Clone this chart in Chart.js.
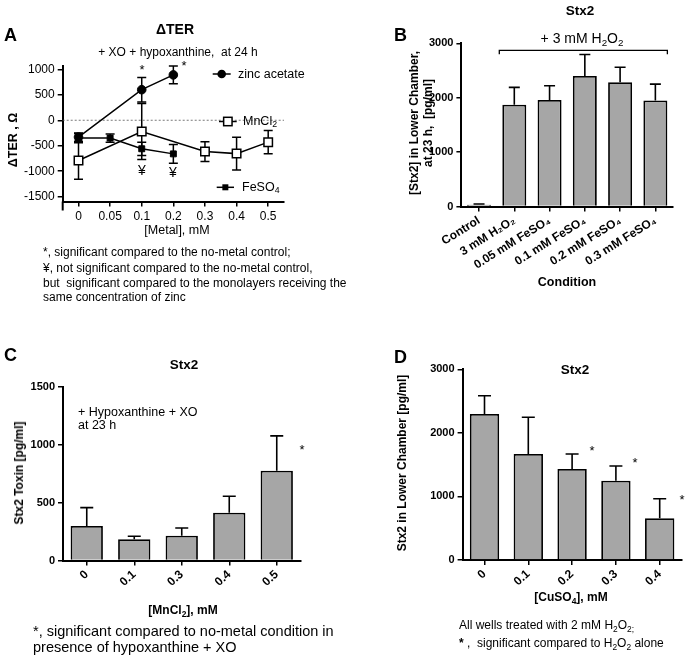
<!DOCTYPE html>
<html><head><meta charset="utf-8">
<script src="https://cdn.jsdelivr.net/npm/chart.js@4.4.1/dist/chart.umd.min.js"></script>
<style>
body{margin:0;background:#fff;}
#wrap{position:relative;width:685px;height:656px;overflow:hidden;background:#fff;font-family:"Liberation Sans",Arial,sans-serif;color:#000;}
canvas{position:absolute;}
.t{position:absolute;white-space:nowrap;line-height:1;}
.c{transform:translate(-50%,-50%);}
.l{transform:translate(0,-50%);}
.b{font-weight:bold;}
.r{transform:translate(-50%,-50%) rotate(-90deg);text-align:center;}
sub{font-size:70%;vertical-align:-0.3em;line-height:0;}
</style></head>
<body>
<div id="wrap">
<canvas id="A" width="340" height="240" style="left:0;top:0;width:340px;height:240px"></canvas>
<canvas id="B" width="345" height="300" style="left:340px;top:0;width:345px;height:300px"></canvas>
<canvas id="C" width="340" height="290" style="left:0;top:330px;width:340px;height:290px"></canvas>
<canvas id="D" width="345" height="290" style="left:340px;top:330px;width:345px;height:290px"></canvas>

<!-- Panel A text -->
<div class="t b l" style="left:4px;top:35px;font-size:18px">A</div>
<div class="t b c" style="left:175px;top:29px;font-size:14px">ΔTER</div>
<div class="t c" style="left:178px;top:52px;font-size:12px">+ XO + hypoxanthine,&nbsp; at 24 h</div>
<div class="t b r" style="left:13px;top:140px;font-size:12.5px">ΔTER , Ω</div>
<div class="t c" style="left:177px;top:230px;font-size:12.5px">[Metal], mM</div>
<div class="t l" style="left:43px;top:252px;font-size:12px">*, significant compared to the no-metal control;</div>
<div class="t l" style="left:43px;top:268px;font-size:12px">¥, not significant compared to the no-metal control,</div>
<div class="t l" style="left:43px;top:283px;font-size:12px">but&nbsp; significant compared to the monolayers receiving the</div>
<div class="t l" style="left:43px;top:297px;font-size:12px">same concentration of zinc</div>
<div class="t c" style="left:142px;top:69px;font-size:13px">*</div>
<div class="t c" style="left:184px;top:65px;font-size:13px">*</div>
<div class="t c" style="left:142px;top:170px;font-size:14px">¥</div>
<div class="t c" style="left:173px;top:172px;font-size:14px">¥</div>
<div class="t l" style="left:238px;top:74px;font-size:12.5px">zinc acetate</div>
<div class="t l" style="left:243px;top:121px;font-size:12.5px">MnCl<sub>2</sub></div>
<div class="t l" style="left:242px;top:187px;font-size:12.5px">FeSO<sub>4</sub></div>

<!-- Panel B text -->
<div class="t b l" style="left:394px;top:35px;font-size:18px">B</div>
<div class="t b c" style="left:580px;top:11px;font-size:13.5px">Stx2</div>
<div class="t c" style="left:582px;top:38px;font-size:14px">+ 3 mM H<sub>2</sub>O<sub>2</sub></div>
<div class="t b r" style="left:421px;top:123px;font-size:12px;line-height:14px">[Stx2] in Lower Chamber,<br>at 23 h,&nbsp; [pg/ml]</div>
<div class="t b c" style="left:567px;top:282px;font-size:12.5px">Condition</div>

<!-- Panel C text -->
<div class="t b l" style="left:4px;top:355px;font-size:18px">C</div>
<div class="t b c" style="left:184px;top:365px;font-size:13.5px">Stx2</div>
<div class="t l" style="left:78px;top:412px;font-size:12.5px">+ Hypoxanthine + XO</div>
<div class="t l" style="left:78px;top:425px;font-size:12.5px">at 23 h</div>
<div class="t b r" style="left:19px;top:473px;font-size:12px">Stx2 Toxin [pg/ml]</div>
<div class="t b c" style="left:183px;top:610px;font-size:12px">[MnCl<sub>2</sub>], mM</div>
<div class="t c" style="left:302px;top:449px;font-size:13px">*</div>
<div class="t l" style="left:33px;top:631px;font-size:14.5px">*, significant compared to no-metal condition in</div>
<div class="t l" style="left:33px;top:647px;font-size:14.5px">presence of hypoxanthine + XO</div>

<!-- Panel D text -->
<div class="t b l" style="left:394px;top:357px;font-size:18px">D</div>
<div class="t b c" style="left:575px;top:370px;font-size:13.5px">Stx2</div>
<div class="t b r" style="left:402px;top:463px;font-size:12px">Stx2 in Lower Chamber [pg/ml]</div>
<div class="t b c" style="left:571px;top:597px;font-size:12px">[CuSO<sub>4</sub>], mM</div>
<div class="t c" style="left:592px;top:450px;font-size:13px">*</div>
<div class="t c" style="left:635px;top:462px;font-size:13px">*</div>
<div class="t c" style="left:682px;top:499px;font-size:13px">*</div>
<div class="t l" style="left:459px;top:625px;font-size:12px">All wells treated with 2 mM H<sub>2</sub>O<sub>2;</sub></div>
<div class="t l" style="left:459px;top:643px;font-size:12px"><b>*</b> ,&nbsp; significant compared to H<sub>2</sub>O<sub>2</sub> alone</div>
</div>

<script>
// ---------- DATA ----------
const metalLevels = ['0','0.05','0.1','0.2','0.3','0.4','0.5'];
const zincTER = [-330, null, 600, 890, null, null, null];
const zincErr = [80, null, 240, 175, null, null, null];
const feTER   = [-350, -350, -560, -660, null, null, null];
const feErr   = [90, 80, 130, 185, null, null, null];
const mnTER   = [-790, null, -220, null, -615, -655, -430];
const mnErr   = [370, null, 550, null, 195, 320, 230];
const terTicks = [-1500, -1000, -500, 0, 500, 1000];

const conditionsB = ['Control','3 mM H₂O₂','0.05 mM FeSO₄','0.1 mM FeSO₄','0.2 mM FeSO₄','0.3 mM FeSO₄'];
const stxB    = [30, 1870, 1960, 2400, 2285, 1950];
const stxBErr = [15, 320, 260, 395, 275, 300];
const ticksB  = [0, 1000, 2000, 3000];

const mnLevels = ['0','0.1','0.3','0.4','0.5'];
const stxC    = [298, 183, 214, 413, 774];
const stxCErr = [158, 26, 67, 142, 302];
const ticksC  = [0, 500, 1000, 1500];

const cuLevels = ['0','0.1','0.2','0.3','0.4'];
const stxD    = [2297, 1668, 1432, 1248, 656];
const stxDErr = [288, 577, 236, 231, 308];
const ticksD  = [0, 1000, 2000, 3000];

// ---------- PLUGINS ----------
function drawErrors(chart, upOnly) {
  const ctx = chart.ctx, ys = chart.scales.y;
  chart.data.datasets.forEach((ds, i) => {
    if (!ds.errors) return;
    const meta = chart.getDatasetMeta(i);
    meta.data.forEach((el, j) => {
      const v = ds.data[j], e = ds.errors[j];
      if (v == null || e == null) return;
      const x = el.x;
      const yt = ys.getPixelForValue(v + e);
      const yb = ys.getPixelForValue(upOnly ? v : v - e);
      const cw = ds.errCap;
      ctx.save();
      ctx.strokeStyle = '#000';
      ctx.lineWidth = ds.errWidth || 1.5;
      ctx.beginPath();
      ctx.moveTo(x, yt); ctx.lineTo(x, yb);
      ctx.moveTo(x - cw, yt); ctx.lineTo(x + cw, yt);
      if (!upOnly) { ctx.moveTo(x - cw, yb); ctx.lineTo(x + cw, yb); }
      ctx.stroke();
      ctx.restore();
    });
  });
}
const errorBars = {
  id: 'errorBars',
  beforeDatasetsDraw(chart) { if (chart.config.type === 'line') drawErrors(chart, false); },
  afterDatasetsDraw(chart) { if (chart.config.type === 'bar') drawErrors(chart, true); }
};

const extraDraw = {
  A(chart) {
    const ctx = chart.ctx, ys = chart.scales.y, a = chart.chartArea;
    const y0 = ys.getPixelForValue(0);
    ctx.save();
    ctx.strokeStyle = '#555'; ctx.lineWidth = 0.8; ctx.setLineDash([2, 2]);
    ctx.beginPath(); ctx.moveTo(a.left, y0); ctx.lineTo(a.right, y0); ctx.stroke();
    ctx.restore();
  },
  Apost(chart) {
    const ctx = chart.ctx, a = chart.chartArea;
    ctx.save();
    ctx.strokeStyle = '#000'; ctx.fillStyle = '#000';
    // y axis running a little below the x axis
    ctx.lineWidth = 2;
    ctx.beginPath(); ctx.moveTo(a.left, a.bottom); ctx.lineTo(a.left, a.bottom + 9); ctx.stroke();
    const items = [
      {x1: 212.7, x2: 230.7, y: 74, style: 'circle'},
      {x1: 219, x2: 236.7, y: 121.5, style: 'open'},
      {x1: 216.7, x2: 234, y: 187.3, style: 'square'}
    ];
    ctx.lineWidth = 1.5;
    items.forEach(it => {
      const cx = (it.x1 + it.x2) / 2;
      ctx.beginPath(); ctx.moveTo(it.x1, it.y); ctx.lineTo(it.x2, it.y); ctx.stroke();
      if (it.style === 'circle') { ctx.beginPath(); ctx.arc(cx, it.y, 4.3, 0, Math.PI * 2); ctx.fill(); }
      if (it.style === 'open') { ctx.fillStyle = '#fff'; ctx.fillRect(cx - 4.2, it.y - 4.2, 8.4, 8.4); ctx.strokeRect(cx - 4.2, it.y - 4.2, 8.4, 8.4); ctx.fillStyle = '#000'; }
      if (it.style === 'square') { ctx.fillRect(cx - 3, it.y - 3, 6, 6); }
    });
    ctx.restore();
  },
  Bpost(chart) {
    const ctx = chart.ctx, xs = chart.scales.x, ys = chart.scales.y;
    const x1 = xs.getPixelForValue(1) - 15, x2 = xs.getPixelForValue(5) + 12;
    const y = ys.getPixelForValue(3000) + 7;
    ctx.save();
    ctx.strokeStyle = '#000'; ctx.lineWidth = 1.3;
    ctx.beginPath();
    ctx.moveTo(x1, y + 4); ctx.lineTo(x1, y); ctx.lineTo(x2, y); ctx.lineTo(x2, y + 4);
    ctx.stroke();
    ctx.restore();
  }
};
const extras = {
  id: 'extras',
  beforeDatasetsDraw(chart) { const f = extraDraw[chart.canvas.id]; if (f) f(chart); },
  afterDraw(chart) { const f = extraDraw[chart.canvas.id + 'post']; if (f) f(chart); }
};

const FONT = '"Liberation Sans", Arial, sans-serif';

function axisCommon(bold, size) {
  return {
    border: {display: true, color: '#000', width: 2},
    grid: {display: true, drawOnChartArea: false, drawTicks: true, tickLength: 5, color: '#000', lineWidth: 1.5, offset: false},
    ticks: {color: '#000', font: {family: FONT, size: size, weight: bold ? 'bold' : 'normal'}, padding: 3}
  };
}

// ---------- PANEL A ----------
(function () {
  const W = 340, H = 240, box = {left: 62.7, right: 284, top: 66, bottom: 201.5}, xH = 20;
  const yAx = axisCommon(false, 12);
  const xAx = axisCommon(false, 12);
  yAx.ticks.callback = v => String(v);
  new Chart(document.getElementById('A'), {
    type: 'line',
    data: {
      labels: metalLevels,
      datasets: [
        {label: 'zinc acetate', data: zincTER, errors: zincErr, errCap: 4.5, borderColor: '#000', borderWidth: 1.5,
         pointStyle: 'circle', pointRadius: 4.3, pointBackgroundColor: '#000', pointBorderColor: '#000', pointBorderWidth: 1, spanGaps: true, fill: false},
        {label: 'MnCl₂', data: mnTER, errors: mnErr, errCap: 4.5, borderColor: '#000', borderWidth: 1.5,
         pointStyle: 'rect', pointRadius: 6, pointBackgroundColor: '#fff', pointBorderColor: '#000', pointBorderWidth: 1.5, spanGaps: true, fill: false},
        {label: 'FeSO₄', data: feTER, errors: feErr, errCap: 4.5, borderColor: '#000', borderWidth: 1.5,
         pointStyle: 'rect', pointRadius: 4.2, pointBackgroundColor: '#000', pointBorderColor: '#000', pointBorderWidth: 1, spanGaps: true, fill: false}
      ]
    },
    options: {
      responsive: false, animation: false, devicePixelRatio: 1,
      layout: {padding: {left: 0, top: box.top, right: W - box.right, bottom: H - box.bottom - xH}},
      plugins: {legend: {display: false}, tooltip: {enabled: false}},
      scales: {
        x: Object.assign(xAx, {type: 'category', offset: true, afterFit: s => { s.height = xH; }}),
        y: Object.assign(yAx, {min: -1595, max: 1065,
          afterBuildTicks: s => { s.ticks = terTicks.map(v => ({value: v})); },
          afterFit: s => { s.width = box.left; }})
      }
    },
    plugins: [errorBars, extras]
  });
})();

// ---------- BAR PANELS ----------
function barPanel(id, W, H, box, xH, labels, data, errs, ticks, ymax, barPct, cap, rot, xSize) {
  const yAx = axisCommon(true, 11);
  const xAx = axisCommon(true, xSize);
  yAx.ticks.callback = v => String(v);
  xAx.ticks.minRotation = rot; xAx.ticks.maxRotation = rot;
  xAx.ticks.padding = 2;
  new Chart(document.getElementById(id), {
    type: 'bar',
    data: {
      labels: labels,
      datasets: [{data: data, errors: errs, errCap: cap, errWidth: 1.6,
        backgroundColor: '#a6a6a6', borderColor: '#000', borderWidth: 1.8, borderSkipped: 'bottom',
        barPercentage: barPct, categoryPercentage: 1.0}]
    },
    options: {
      responsive: false, animation: false, devicePixelRatio: 1,
      layout: {padding: {left: 0, top: box.top, right: W - box.right, bottom: H - box.bottom - xH}},
      plugins: {legend: {display: false}, tooltip: {enabled: false}},
      scales: {
        x: Object.assign(xAx, {type: 'category', offset: true, afterFit: s => { s.height = xH; }}),
        y: Object.assign(yAx, {min: 0, max: ymax,
          afterBuildTicks: s => { s.ticks = ticks.map(v => ({value: v})); },
          afterFit: s => { s.width = box.left; }})
      }
    },
    plugins: [errorBars, extras]
  });
}

barPanel('B', 345, 300, {left: 121.4, right: 333, top: 43.3, bottom: 206.5}, 80,
  conditionsB, stxB, stxBErr, ticksB, 3000, 0.68, 5.5, 32, 12);
barPanel('C', 340, 290, {left: 63, right: 300.5, top: 56.7, bottom: 230.5}, 40,
  mnLevels, stxC, stxCErr, ticksC, 1500, 0.68, 6.5, 42, 12);
barPanel('D', 345, 290, {left: 122.6, right: 341.6, top: 39.3, bottom: 230}, 40,
  cuLevels, stxD, stxDErr, ticksD, 3000, 0.67, 6.5, 42, 12);
</script>
</body></html>
